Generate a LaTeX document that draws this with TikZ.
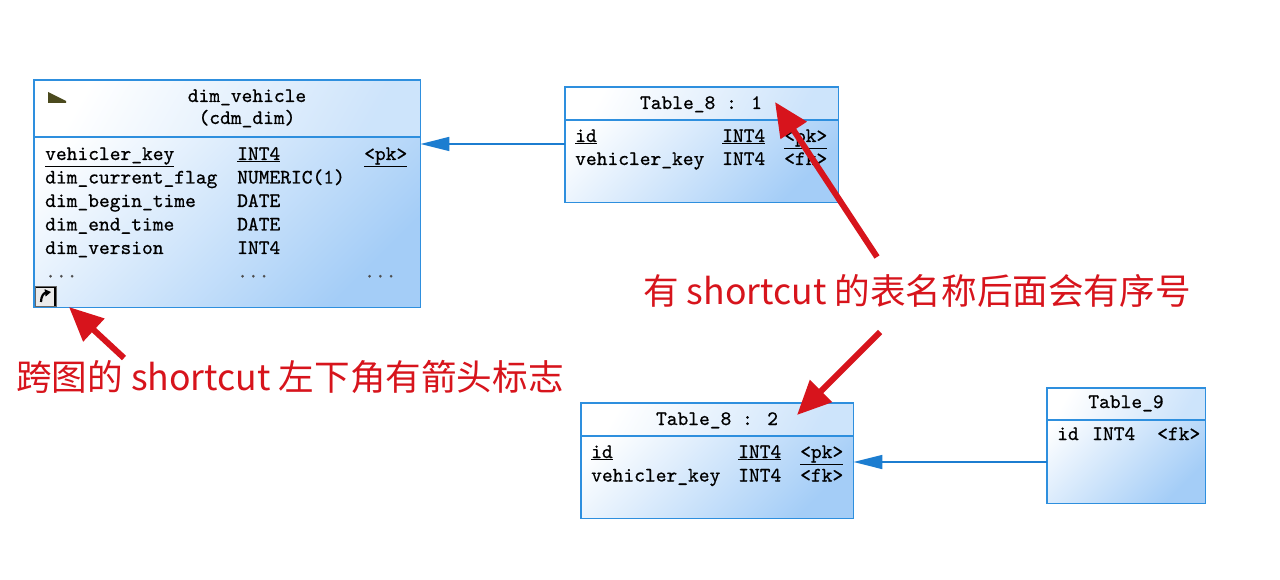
\documentclass[tikz,border=0pt]{standalone}
\usepackage{fontspec}
\newfontfamily\cjk{Noto Sans CJK SC}
\newfontfamily\erfont{lmmono10-regular.otf}[FakeBold=0.7]
\usetikzlibrary{arrows.meta,calc}
\definecolor{tblborder}{HTML}{2E8FDE}
\definecolor{tblblue}{HTML}{A4CDF7}
\definecolor{fkline}{HTML}{1C7DD0}
\definecolor{annred}{HTML}{D7141C}
\definecolor{iconolive}{HTML}{4B4A1E}
\newcommand\monofnt{\erfont\fontsize{20.5}{24}\selectfont}
\tikzset{
 tbox/.style={inner sep=0pt, anchor=north west, top color=white, bottom color=tblblue, shading angle=45},
 hdr/.style={top color=white, bottom color=tblblue!55, shading angle=60},
 frame/.style={draw=tblborder, line width=1.6pt},
 cell/.style={anchor=base west, inner sep=0pt, font=\monofnt},
 ctitle/.style={anchor=base, inner sep=0pt, font=\monofnt},
 fk/.style={draw=fkline, line width=1.6pt, -{Triangle[length=29pt,width=14pt]}},
 ann/.style={draw=annred, line width=6pt, -{Triangle[length=34pt,width=30pt]}},
 anntext/.style={text=annred, font=\cjk\fontsize{35.6}{40}\selectfont, inner sep=0pt},
}
\begin{document}
\begin{tikzpicture}[x=1pt,y=-1pt]
\useasboundingbox[fill=white] (0,0) rectangle (1280,580);

% ---------- dim_vehicle ----------
\node[tbox, minimum width=386pt, minimum height=227pt] (dimv) at (34,80) {};
\path[hdr] (dimv.north west) rectangle ($(dimv.north east)+(0,57)$);
\draw[frame] (dimv.north west) rectangle (dimv.south east);
\draw[frame] ($(dimv.north west)+(0,57)$) -- ($(dimv.north east)+(0,57)$);
\fill[iconolive] (48,92) -- (56,96) -- (66,101) -- (66,103) -- (48,103) -- cycle;
\node[ctitle] (dimvt) at (247,102) {dim\_vehicle};
\node[ctitle] (dimvs) at (247,124) {(cdm\_dim)};
\node[cell] (d1n) at (45,160) {\underline{vehicler\_key}};
\node[cell] (d1t) at (237,160) {\underline{INT4}};
\node[cell] (d1k) at (364,160) {\underline{<pk>}};
\node[cell] (d2n) at (45,183.5) {dim\_current\_flag};
\node[cell] (d2t) at (237,183.5) {NUMERIC(1)};
\node[cell] (d3n) at (45,207) {dim\_begin\_time};
\node[cell] (d3t) at (237,207) {DATE};
\node[cell] (d4n) at (45,230.5) {dim\_end\_time};
\node[cell] (d4t) at (237,230.5) {DATE};
\node[cell] (d5n) at (45,254) {dim\_version};
\node[cell] (d5t) at (237,254) {INT4};
\node[cell, text=black!70] (d6n) at (45,277.5) {...};
\node[cell, text=black!70] (d6t) at (237,277.5) {...};
\node[cell, text=black!70] (d6k) at (364,277.5) {...};
% shortcut icon
\fill[black!8] (35,286) rectangle (56,306);
\draw[black, line width=1.6pt] (36,287) -- (55,287) -- (55,306);
\draw[black!60, line width=0.8pt] (35,286) rectangle (56,306);
\draw[black, line width=2.2pt, -{Triangle[length=6pt,width=7pt]}] (41,302) .. controls (41,296) and (44,293) .. (51,292);

% ---------- Table_8 : 1 ----------
\node[tbox, minimum width=273pt, minimum height=115pt] (t81) at (565,87) {};
\path[hdr] (t81.north west) rectangle ($(t81.north east)+(0,33)$);
\draw[frame] (t81.north west) rectangle (t81.south east);
\draw[frame] ($(t81.north west)+(0,33)$) -- ($(t81.north east)+(0,33)$);
\node[ctitle] (t81t) at (701,109) {Table\_8 : 1};
\node[cell] (a1n) at (575,142) {\underline{id}};
\node[cell] (a1t) at (722,142) {\underline{INT4}};
\node[cell] (a1k) at (784,142) {\underline{<pk>}};
\node[cell] (a2n) at (575,165) {vehicler\_key};
\node[cell] (a2t) at (722,165) {INT4};
\node[cell] (a2k) at (784,165) {<fk>};

% ---------- Table_8 : 2 ----------
\node[tbox, minimum width=272pt, minimum height=115pt] (t82) at (581,403) {};
\path[hdr] (t82.north west) rectangle ($(t82.north east)+(0,33)$);
\draw[frame] (t82.north west) rectangle (t82.south east);
\draw[frame] ($(t82.north west)+(0,33)$) -- ($(t82.north east)+(0,33)$);
\node[ctitle] (t82t) at (717,425) {Table\_8 : 2};
\node[cell] (b1n) at (591,458) {\underline{id}};
\node[cell] (b1t) at (738,458) {\underline{INT4}};
\node[cell] (b1k) at (800,458) {\underline{<pk>}};
\node[cell] (b2n) at (591,481.5) {vehicler\_key};
\node[cell] (b2t) at (738,481.5) {INT4};
\node[cell] (b2k) at (800,481.5) {<fk>};

% ---------- Table_9 ----------
\node[tbox, minimum width=158pt, minimum height=115pt] (t9) at (1047,388) {};
\path[hdr] (t9.north west) rectangle ($(t9.north east)+(0,32)$);
\draw[frame] (t9.north west) rectangle (t9.south east);
\draw[frame] ($(t9.north west)+(0,32)$) -- ($(t9.north east)+(0,32)$);
\node[ctitle] (t9t) at (1126,408) {Table\_9};
\node[cell] (c1n) at (1057,440) {id};
\node[cell] (c1t) at (1092,440) {INT4};
\node[cell] (c1k) at (1157,440) {<fk>};

% ---------- references ----------
\coordinate (r1) at (0,144);
\draw[fk] (t81.west |- r1) -- (dimv.east |- r1);
\coordinate (r2) at (0,462);
\draw[fk] (t9.west |- r2) -- (t82.east |- r2);

% ---------- annotations ----------
\node[anntext] (note1) at (917,291) {有 shortcut 的表名称后面会有序号};
\node[anntext] (note2) at (290,377) {跨图的 shortcut 左下角有箭头标志};
\coordinate (p1s) at (877,257);
\coordinate (p1e) at (775,102);
\coordinate (p2s) at (880,332);
\coordinate (p2e) at (797,415);
\coordinate (p3s) at (124,358);
\coordinate (p3e) at (69,307);
\draw[ann] (p1s) -- (p1e);
\draw[ann] (p2s) -- (p2e);
\draw[ann] (p3s) -- (p3e);
\end{tikzpicture}
\end{document}
